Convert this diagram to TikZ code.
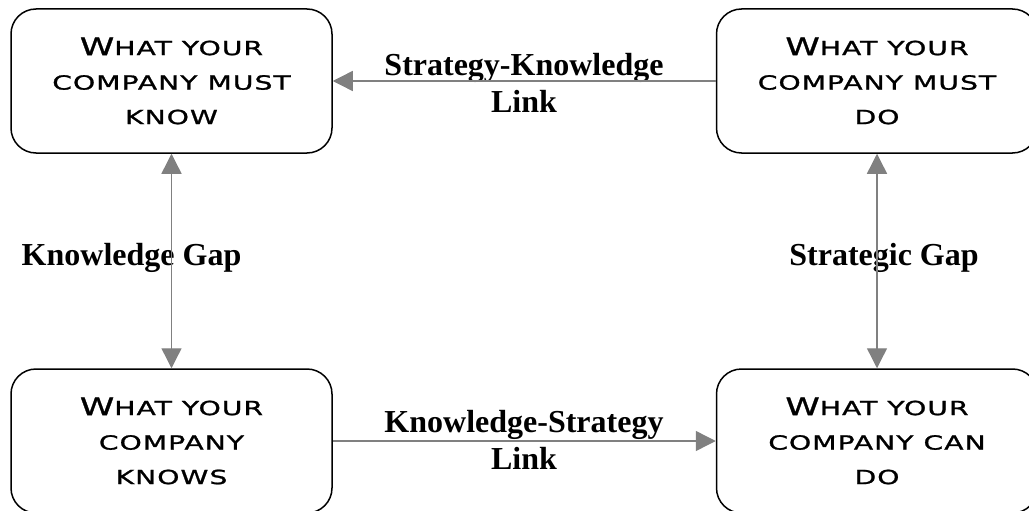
\documentclass[tikz,border=0pt]{standalone}
\usepackage{fontspec}
\setmainfont{Liberation Serif}
\newfontfamily\boxfont[FakeStretch=1.45,LetterSpace=5,FakeBold=1.2]{DejaVu Sans}
\usetikzlibrary{arrows.meta}
\definecolor{linkgray}{RGB}{128,128,128}
% initial capital of each small-caps heading
\newcommand\initcap[1]{{\fontsize{24}{34.5}\selectfont #1}}
\tikzset{
  x=1pt, y=-1pt,
  stagebox/.style={draw=black, line width=1.5pt, rounded corners=25pt,
    minimum width=321pt, minimum height=144pt, inner sep=0pt,
    align=center, font=\boxfont\fontsize{19.5}{34.5}\selectfont},
  linklabel/.style={align=center, inner sep=0pt,
    font=\bfseries\fontsize{32}{37}\selectfont},
  link/.style={draw=linkgray, line width=1.4pt,
    -{Triangle[length=20pt,width=20pt]}},
  gaplink/.style={draw=linkgray, line width=1.4pt,
    {Triangle[length=20pt,width=20pt]}-{Triangle[length=20pt,width=20pt]}}
}
\begin{document}
\begin{tikzpicture}
\useasboundingbox (0,0) rectangle (1029,511);
\clip (0,0) rectangle (1029,511);

% the four stages
\node[stagebox] (mustknow) at (171.5,81) {\initcap{W}HAT YOUR\\COMPANY MUST\\KNOW};
\node[stagebox] (mustdo)   at (877,81)   {\initcap{W}HAT YOUR\\COMPANY MUST\\DO};
\node[stagebox] (knows)    at (171.5,441) {\initcap{W}HAT YOUR\\COMPANY\\KNOWS};
\node[stagebox] (cando)    at (877,441)  {\initcap{W}HAT YOUR\\COMPANY CAN\\DO};

% labels of the links and gaps
\node[linklabel] (sklabel) at (524,82.5) {Strategy-Knowledge\\Link};
\node[linklabel] (kslabel) at (524,440) {Knowledge-Strategy\\Link};
\node[linklabel, anchor=base] (kgap) at (131.5,265) {Knowledge Gap};
\node[linklabel, anchor=base] (sgap) at (884,265) {Strategic Gap};

% connectors
\draw[link] (mustdo.west) -- (mustknow.east);
\draw[link] (knows.east) -- (cando.west);
\draw[gaplink] (mustknow.south) -- (knows.north);
\draw[gaplink] (mustdo.south) -- (cando.north);
\end{tikzpicture}
\end{document}
